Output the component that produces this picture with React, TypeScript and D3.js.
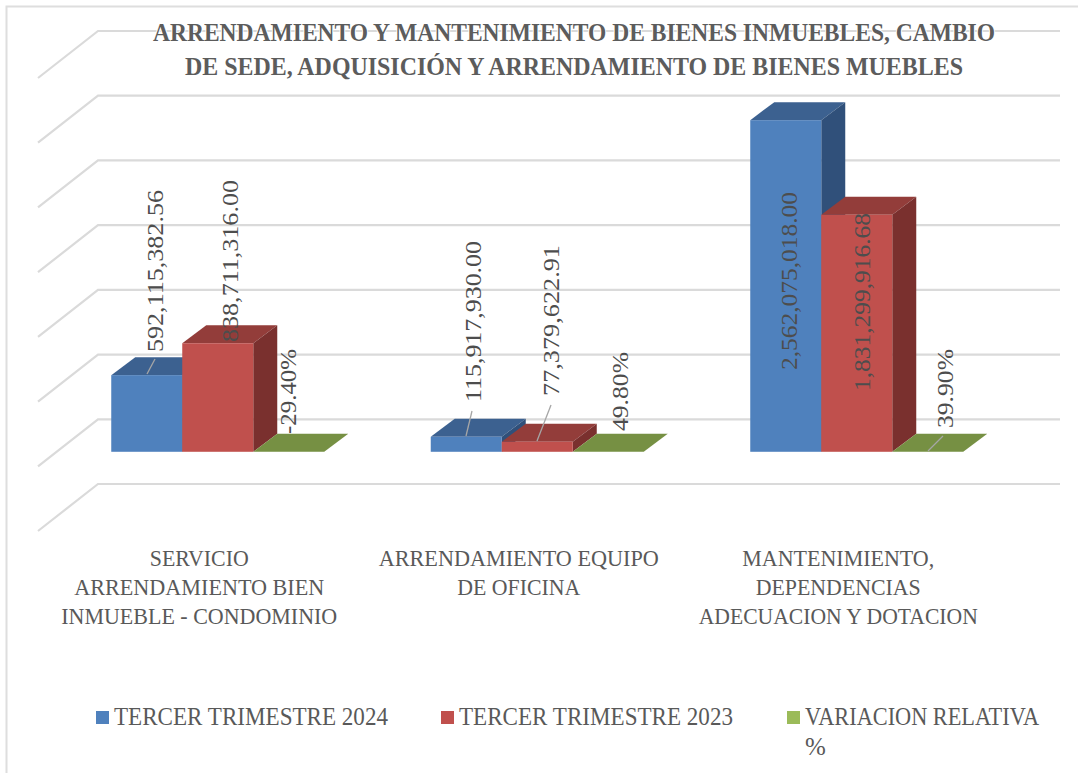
import React, { useEffect, useRef } from "react";
import * as d3 from "d3";

const categories = [
  ["SERVICIO", "ARRENDAMIENTO BIEN", "INMUEBLE - CONDOMINIO"],
  ["ARRENDAMIENTO EQUIPO", "DE OFICINA"],
  ["MANTENIMIENTO,", "DEPENDENCIAS", "ADECUACION Y DOTACION"],
];
const categoryWidths = [
  [99, 250, 276],
  [280, 123],
  [192, 165, 279],
];
const seriesNames = ["TERCER TRIMESTRE 2024", "TERCER TRIMESTRE 2023", "VARIACION RELATIVA"];
const values2024 = [592115382.56, 115917930.0, 2562075018.0];
const values2023 = [838711316.0, 77379622.91, 1831299916.68];
const variation = [-0.294, 0.498, 0.399];
const labels2024 = ["592,115,382.56", "115,917,930.00", "2,562,075,018.00"];
const labels2023 = ["838,711,316.00", "77,379,622.91", "1,831,299,916.68"];
const labelsVariation = ["-29.40%", "49.80%", "39.90%"];
const gridTicks = [-500e6, 0, 500e6, 1000e6, 1500e6, 2000e6, 2500e6, 3000e6];
const titleLines = [
  "ARRENDAMIENTO Y MANTENIMIENTO DE BIENES INMUEBLES, CAMBIO",
  "DE SEDE, ADQUISICIÓN Y ARRENDAMIENTO DE BIENES MUEBLES",
];

const frontColors = ["#4f81bd", "#c0504d", "#9bbb59"];
const topColors = ["#3c6190", "#933d3a", "#769043"];
const sideColors = ["#30507a", "#7a302e", "#5f7536"];

const serif = "'Liberation Serif', serif";
const textColor = "#595959";

const App = () => {
  const ref = useRef<SVGSVGElement>(null);

  useEffect(() => {
    const svg = d3.select(ref.current);
    svg.selectAll("*").remove();

    // Chart frame
    svg
      .append("rect")
      .attr("x", 6.5)
      .attr("y", 6.5)
      .attr("width", 1200)
      .attr("height", 1000)
      .attr("fill", "#fff")
      .attr("stroke", "#dedede")
      .attr("stroke-width", 2);

    // y is measured on the back wall, depth moves things down and to the left
    const y = d3.scaleLinear().domain([-500e6, 3000e6]).range([484, 31]);
    const x0 = d3
      .scaleBand<number>()
      .domain([0, 1, 2])
      .range([58, 1016.5])
      .paddingInner(1 / 3)
      .paddingOuter(1 / 6);
    const x1 = d3.scaleBand<number>().domain([0, 1, 2]).range([0, x0.bandwidth()]);

    // Grid on the wall and the side wall
    const grid = svg.append("g").attr("fill", "none").attr("stroke", "#dadada").attr("stroke-width", 2.2);
    gridTicks.forEach((t) => {
      const line = d3.line();
      grid.append("path").attr("d", line([
        [38, y(t) + 47],
        [98, y(t)],
        [1060, y(t)],
      ]));
    });

    const barDx = 24;
    const barDy = 18;
    const baseY = y(0) + 32.5;
    const scaleH = (v: number) => y(0) - y(v);

    const series = [values2024, values2023, variation.map(() => 0)];

    const bars = svg.append("g");
    [0, 1, 2].forEach((c) => {
      [0, 1, 2].forEach((s) => {
        const h = scaleH(series[s][c]);
        const left = x0(c)! + x1(s)!;
        const w = x1.bandwidth();
        const top = baseY - h;
        const g = bars.append("g");
        // top
        g.append("path")
          .attr("d", `M${left},${top}L${left + barDx},${top - barDy}L${left + w + barDx},${top - barDy}L${left + w},${top}Z`)
          .attr("fill", topColors[s]);
        if (h > 0) {
          // side
          g.append("path")
            .attr("d", `M${left + w},${top}L${left + w + barDx},${top - barDy}L${left + w + barDx},${baseY - barDy}L${left + w},${baseY}Z`)
            .attr("fill", sideColors[s]);
          g.append("rect")
            .attr("x", left)
            .attr("y", top)
            .attr("width", w)
            .attr("height", h)
            .attr("fill", frontColors[s]);
        }
      });
    });

    // Leader lines from the moved labels back to their bars
    const leaders = [
      [147, 374, 155, 359],
      [466, 436, 472, 411],
      [537, 441, 551, 405],
      [928, 451, 943, 436],
    ];
    svg
      .append("g")
      .selectAll("line")
      .data(leaders)
      .enter()
      .append("line")
      .attr("x1", (d) => d[0])
      .attr("y1", (d) => d[1])
      .attr("x2", (d) => d[2])
      .attr("y2", (d) => d[3])
      .attr("stroke", "#a6a6a6")
      .attr("stroke-width", 1.3);

    // Rotated data labels, positions follow the reference
    const dataLabels = [
      { t: labels2024[0], x: 155, y: 352, len: 162 },
      { t: labels2023[0], x: 230, y: 342, len: 162 },
      { t: labelsVariation[0], x: 288, y: 434, len: 85 },
      { t: labels2024[1], x: 473, y: 402, len: 161 },
      { t: labels2023[1], x: 551, y: 396, len: 151 },
      { t: labelsVariation[1], x: 620, y: 431, len: 79 },
      { t: labels2024[2], x: 789, y: 370, len: 178 },
      { t: labels2023[2], x: 862, y: 391, len: 178 },
      { t: labelsVariation[2], x: 945, y: 428, len: 79 },
    ];
    dataLabels.forEach((d) => {
      svg
        .append("text")
        .attr("transform", `translate(${d.x},${d.y}) rotate(-90)`)
        .attr("dy", "0.35em")
        .attr("font-family", serif)
        .attr("font-size", 24)
        .attr("fill", "#4d4d4d")
        .attr("textLength", d.len)
        .attr("lengthAdjust", "spacingAndGlyphs")
        .text(d.t);
    });

    // Title, a single dark line of text per row with a pale outline behind it
    titleLines.forEach((line, i) => {
      svg
        .append("text")
        .attr("x", 574)
        .attr("y", 41 + i * 34)
        .attr("text-anchor", "middle")
        .attr("font-family", serif)
        .attr("font-size", 25)
        .attr("font-weight", "bold")
        .attr("fill", "#5c5c5c")
        .attr("stroke", "#fff")
        .attr("stroke-width", 2)
        .attr("paint-order", "stroke")
        .attr("textLength", i === 0 ? 842 : 778)
        .attr("lengthAdjust", "spacingAndGlyphs")
        .text(line);
    });

    // Category labels
    categories.forEach((lines, c) => {
      const cx = x0(c)! + x0.bandwidth() / 2 - 18.5;
      lines.forEach((line, i) => {
        svg
          .append("text")
          .attr("x", cx)
          .attr("y", 566 + i * 29)
          .attr("text-anchor", "middle")
          .attr("font-family", serif)
          .attr("font-size", 24)
          .attr("fill", textColor)
          .attr("textLength", categoryWidths[c][i])
          .attr("lengthAdjust", "spacingAndGlyphs")
          .text(line);
      });
    });

    // Legend
    const legendX = [96, 441, 787];
    seriesNames.forEach((name, i) => {
      svg
        .append("rect")
        .attr("x", legendX[i])
        .attr("y", 711)
        .attr("width", 13)
        .attr("height", 13)
        .attr("fill", frontColors[i]);
      svg
        .append("text")
        .attr("x", legendX[i] + 18)
        .attr("y", 725)
        .attr("font-family", serif)
        .attr("font-size", 25)
        .attr("fill", textColor)
        .attr("textLength", i === 2 ? 234 : 274)
        .attr("lengthAdjust", "spacingAndGlyphs")
        .text(name);
    });
    svg
      .append("text")
      .attr("x", legendX[2] + 18)
      .attr("y", 755)
      .attr("font-family", serif)
      .attr("font-size", 25)
      .attr("fill", textColor)
      .text("%");
  }, []);

  return <svg ref={ref} width={1078} height={773} style={{ position: "absolute", left: 0, top: 0 }} />;
};

export default App;
